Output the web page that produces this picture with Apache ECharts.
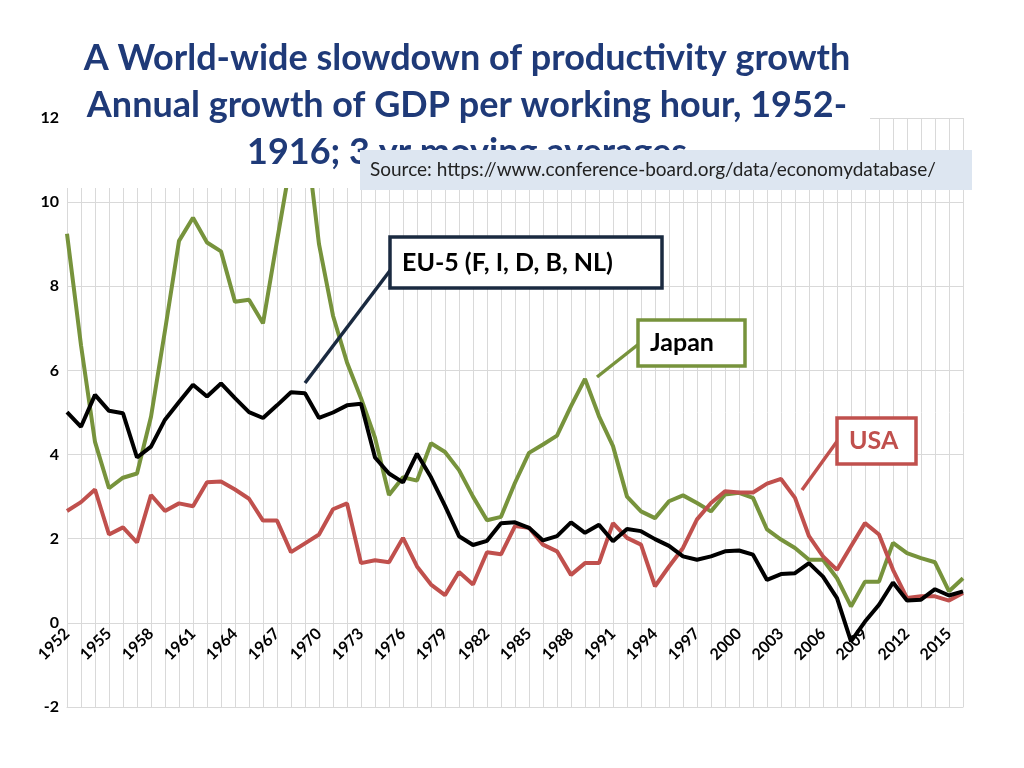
<!DOCTYPE html>
<html><head><meta charset="utf-8">
<script src="https://cdn.jsdelivr.net/npm/echarts@6/dist/echarts.min.js"></script>
<style>html,body{margin:0;padding:0;background:#fff}#c{width:1024px;height:768px}</style>
</head><body><div id="c"></div>
<script>
const years = []; for (let y = 1952; y <= 2016; y++) years.push(String(y));
const japan = [9.25,6.6,4.3,3.2,3.45,3.55,4.9,6.95,9.08,9.63,9.04,8.83,7.63,7.68,7.12,9.08,11.0,11.8,9.0,7.3,6.19,5.34,4.4,3.04,3.46,3.38,4.27,4.06,3.63,3.0,2.44,2.52,3.33,4.04,4.24,4.45,5.15,5.8,4.91,4.2,3.0,2.65,2.49,2.89,3.03,2.85,2.65,3.05,3.09,2.97,2.22,1.98,1.78,1.5,1.5,1.06,0.39,0.98,0.98,1.9,1.66,1.54,1.44,0.75,1.06];
const usa = [2.66,2.87,3.17,2.1,2.27,1.91,3.04,2.66,2.84,2.77,3.34,3.36,3.17,2.95,2.43,2.43,1.68,1.89,2.1,2.7,2.84,1.42,1.49,1.44,2.02,1.34,0.91,0.66,1.21,0.91,1.68,1.63,2.3,2.26,1.86,1.7,1.14,1.42,1.42,2.37,2.02,1.86,0.87,1.34,1.78,2.46,2.85,3.13,3.1,3.1,3.31,3.42,2.97,2.06,1.58,1.26,1.82,2.37,2.1,1.26,0.59,0.63,0.63,0.53,0.71];
const eu5 = [5.01,4.66,5.42,5.04,4.98,3.93,4.19,4.83,5.25,5.66,5.38,5.69,5.34,5.01,4.87,5.17,5.48,5.46,4.87,5.0,5.17,5.21,3.93,3.55,3.34,4.02,3.46,2.78,2.06,1.85,1.95,2.37,2.39,2.26,1.96,2.06,2.39,2.14,2.33,1.94,2.23,2.18,1.99,1.83,1.58,1.5,1.58,1.7,1.72,1.62,1.02,1.16,1.18,1.42,1.1,0.59,-0.44,0.03,0.43,0.96,0.53,0.55,0.8,0.65,0.75];
const titleLines = ['A World-wide slowdown of productivity growth','Annual growth of GDP per working hour, 1952-','1916; 3 yr moving averages'];
const sourceText = 'Source: https://www.conference-board.org/data/economydatabase/';
const F = 'Lato, "DejaVu Sans", sans-serif';
const chart = echarts.init(document.getElementById('c'));
const mk = (name, data, color) => ({name, type:'line', data, symbol:'none', smooth:false, lineStyle:{color, width:4}, itemStyle:{color}});
const box = (x,y,w,h,color,text,tc) => [
  {type:'rect', shape:{x,y,width:w,height:h}, style:{fill:'#fff', stroke:color, lineWidth:3.5}, z:20},
  {type:'text', x:x+12, y:y+h/2, style:{text, font:'bold 25px '+F, fill:tc, textVerticalAlign:'middle'}, z:21}
];
chart.setOption({
  animation:false,
  grid:{left:67, right:61, top:118, bottom:61, containLabel:false},
  xAxis:{type:'category', data:years, boundaryGap:false,
    axisLine:{onZero:false, lineStyle:{color:'#d9d9d9'}}, axisTick:{show:false},
    axisLabel:{interval:2, rotate:45, margin:-76, fontFamily:F, fontWeight:'bold', fontSize:16, color:'#000'},
    splitLine:{show:true, interval:0, lineStyle:{color:'#d9d9d9'}}},
  yAxis:{type:'value', min:-2, max:12, interval:2,
    axisLabel:{fontFamily:F, fontWeight:'bold', fontSize:16, color:'#000'},
    axisLine:{show:false}, axisTick:{show:false}, splitLine:{lineStyle:{color:'#d9d9d9'}}},
  series:[mk('Japan',japan,'#77933c'), mk('USA',usa,'#c0504d'), mk('EU-5',eu5,'#000000')],
  graphic:[
    {type:'rect', shape:{x:62,y:100,width:808,height:88}, style:{fill:'#fff'}, z:10},
    ...titleLines.map((t,i)=>({type:'text', x:467, y:58+i*47, style:{text:t, font:'bold 36px '+F, fill:'#1f3a78', textAlign:'center', textVerticalAlign:'middle'}, z:11})),
    {type:'rect', shape:{x:360,y:150,width:612,height:40}, style:{fill:'#dde6f1'}, z:12},
    {type:'text', x:370, y:170, style:{text:sourceText, font:'19px '+F, fill:'#222', textVerticalAlign:'middle'}, z:13},
    {type:'line', shape:{x1:305,y1:383,x2:392,y2:268}, style:{stroke:'#1a2a40', lineWidth:3.5}, z:19},
    ...box(390,237,272,51,'#1a2a40','EU-5 (F, I, D, B, NL)','#000'),
    {type:'line', shape:{x1:597,y1:377,x2:640,y2:343}, style:{stroke:'#77933c', lineWidth:3.5}, z:19},
    ...box(638,320,107,46,'#77933c','Japan','#000'),
    {type:'line', shape:{x1:802,y1:490,x2:838,y2:440}, style:{stroke:'#c0504d', lineWidth:3.5}, z:19},
    ...box(837,418,79,46,'#c0504d','USA','#c0504d')
  ]
});
</script></body></html>
